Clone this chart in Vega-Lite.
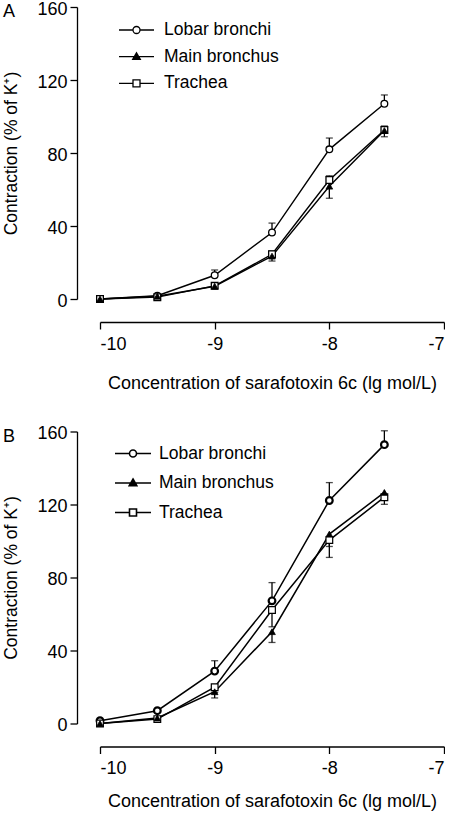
{
  "$schema": "https://vega.github.io/schema/vega-lite/v6.json",
  "background": "white",
  "padding": {"left": 2, "top": 0, "right": 0, "bottom": 0},
  "spacing": 32.5,
  "config": {
    "font": "Liberation Sans",
    "view": {"stroke": null},
    "axis": {
      "grid": false,
      "domainColor": "black",
      "domainWidth": 1.3,
      "tickColor": "black",
      "tickWidth": 1.3,
      "tickSize": 7,
      "labelColor": "black",
      "labelFontSize": 18,
      "titleColor": "black",
      "titleFontSize": 17.5,
      "titleFontWeight": "normal",
      "offset": 23
    },
    "legend": {
      "labelFontSize": 17.5,
      "labelColor": "black",
      "padding": 0
    },
    "title": {"fontSize": 18, "fontWeight": "normal", "color": "black", "anchor": "start", "frame": "bounds"}
  },
  "datasets": {
    "A": [
      {"s": "Lobar bronchi", "x": -10, "y": 0, "lo": 0, "hi": 0},
      {"s": "Lobar bronchi", "x": -9.5, "y": 1.8, "lo": 1.8, "hi": 1.8},
      {"s": "Lobar bronchi", "x": -9, "y": 13, "lo": 13, "hi": 15.9},
      {"s": "Lobar bronchi", "x": -8.5, "y": 36.4, "lo": 36.4, "hi": 41.6},
      {"s": "Lobar bronchi", "x": -8, "y": 82, "lo": 82, "hi": 88.2},
      {"s": "Lobar bronchi", "x": -7.52, "y": 107, "lo": 107, "hi": 111.8},
      {"s": "Main bronchus", "x": -10, "y": 0, "lo": 0, "hi": 0},
      {"s": "Main bronchus", "x": -9.5, "y": 1.5, "lo": 1.5, "hi": 1.5},
      {"s": "Main bronchus", "x": -9, "y": 7, "lo": 6, "hi": 7},
      {"s": "Main bronchus", "x": -8.5, "y": 23.5, "lo": 20.8, "hi": 23.5},
      {"s": "Main bronchus", "x": -8, "y": 61.8, "lo": 55.2, "hi": 61.8},
      {"s": "Main bronchus", "x": -7.52, "y": 92.3, "lo": 88.9, "hi": 92.3},
      {"s": "Trachea", "x": -10, "y": 0, "lo": 0, "hi": 0},
      {"s": "Trachea", "x": -9.5, "y": 1, "lo": 1, "hi": 1},
      {"s": "Trachea", "x": -9, "y": 7.2, "lo": 7.2, "hi": 8},
      {"s": "Trachea", "x": -8.5, "y": 24.5, "lo": 24.5, "hi": 26.3},
      {"s": "Trachea", "x": -8, "y": 65.2, "lo": 65.2, "hi": 67.5},
      {"s": "Trachea", "x": -7.52, "y": 92.6, "lo": 92.6, "hi": 94.8}
    ],
    "B": [
      {"s": "Lobar bronchi", "x": -10, "y": 1.5, "lo": 1.5, "hi": 1.5},
      {"s": "Lobar bronchi", "x": -9.5, "y": 7, "lo": 7, "hi": 7},
      {"s": "Lobar bronchi", "x": -9, "y": 28.7, "lo": 28.7, "hi": 34.4},
      {"s": "Lobar bronchi", "x": -8.5, "y": 67.2, "lo": 67.2, "hi": 77.2},
      {"s": "Lobar bronchi", "x": -8, "y": 122.2, "lo": 122.2, "hi": 132},
      {"s": "Lobar bronchi", "x": -7.52, "y": 152.8, "lo": 152.8, "hi": 160.4},
      {"s": "Main bronchus", "x": -10, "y": 0, "lo": 0, "hi": 0},
      {"s": "Main bronchus", "x": -9.5, "y": 3, "lo": 3, "hi": 3},
      {"s": "Main bronchus", "x": -9, "y": 17.4, "lo": 14, "hi": 17.4},
      {"s": "Main bronchus", "x": -8.5, "y": 50.3, "lo": 44.4, "hi": 50.3},
      {"s": "Main bronchus", "x": -8, "y": 103.8, "lo": 97, "hi": 103.8},
      {"s": "Main bronchus", "x": -7.52, "y": 126.6, "lo": 126.6, "hi": 126.6},
      {"s": "Trachea", "x": -10, "y": 0, "lo": 0, "hi": 0},
      {"s": "Trachea", "x": -9.5, "y": 2.4, "lo": 2.4, "hi": 2.4},
      {"s": "Trachea", "x": -9, "y": 19.9, "lo": 17, "hi": 19.9},
      {"s": "Trachea", "x": -8.5, "y": 62.2, "lo": 53, "hi": 62.2},
      {"s": "Trachea", "x": -8, "y": 100.5, "lo": 91, "hi": 100.5},
      {"s": "Trachea", "x": -7.52, "y": 124, "lo": 120.1, "hi": 124}
    ]
  },
  "resolve": {"scale": {"shape": "independent"}, "legend": {"shape": "independent"}},
  "vconcat": [
    {
      "title": {"text": "A", "offset": -21},
      "width": 344,
      "height": 292,
      "data": {"name": "A"},
      "encoding": {
        "x": {"field": "x", "type": "quantitative", "scale": {"domain": [-10, -7], "nice": false, "zero": false},
              "axis": {"values": [-10, -9, -8, -7], "labelExpr": "'' + datum.value", "labelPadding": 6, "title": "Concentration of sarafotoxin 6c (lg mol/L)", "titlePadding": 21, "titleFontSize": 18}},
        "y": {"field": "y", "type": "quantitative", "scale": {"domain": [0, 160], "nice": false},
              "axis": {"values": [0, 40, 80, 120, 160], "labelPadding": 3, "labelOffset": 2, "title": "Contraction (% of K⁺)", "titlePadding": 16}}
      },
      "layer": [
        {"mark": {"type": "line", "color": "black", "strokeWidth": 1.4}, "encoding": {"detail": {"field": "s"}, "order": {"field": "x"}}},
        {"transform": [{"filter": "datum.lo < datum.hi"}], "mark": {"type": "rule", "color": "black", "strokeWidth": 1.3}, "encoding": {"y": {"field": "lo", "type": "quantitative"}, "y2": {"field": "hi"}}},
        {"transform": [{"filter": "datum.hi > datum.y"}], "mark": {"type": "tick", "orient": "horizontal", "color": "black", "size": 7, "thickness": 1.3}, "encoding": {"y": {"field": "hi", "type": "quantitative"}}},
        {"transform": [{"filter": "datum.lo < datum.y"}], "mark": {"type": "tick", "orient": "horizontal", "color": "black", "size": 7, "thickness": 1.3}, "encoding": {"y": {"field": "lo", "type": "quantitative"}}},
        {"transform": [{"filter": "datum.s == 'Lobar bronchi'"}], "mark": {"type": "point", "shape": "circle", "filled": true, "fill": "white", "stroke": "black", "strokeWidth": 1.3, "size": 45, "opacity": 1}},
        {"transform": [{"filter": "datum.s == 'Trachea'"}], "mark": {"type": "point", "shape": "square", "filled": true, "fill": "white", "stroke": "black", "strokeWidth": 1.3, "size": 45, "opacity": 1}},
        {"transform": [{"filter": "datum.s == 'Main bronchus'"}], "mark": {"type": "point", "shape": "triangle-up", "filled": true, "fill": "black", "stroke": "black", "strokeWidth": 0.8, "size": 45, "opacity": 1}},
        {"transform": [{"filter": "false"}], "mark": {"type": "point", "filled": false, "color": "black", "strokeWidth": 1.3, "opacity": 1},
         "encoding": {
           "shape": {"field": "s", "type": "nominal",
             "scale": {"domain": ["Lobar bronchi", "Main bronchus", "Trachea"],
                       "range": ["M-1.75,0H-0.35M0.35,0H1.75M-0.35,0A0.35,0.35,0,1,0,0.35,0A0.35,0.35,0,1,0,-0.35,0Z",
                                 "M-1.75,0H1.75M0,-0.4L0.38,0.26L-0.38,0.26ZM0,-0.29L0.27,0.18L-0.27,0.18ZM0,-0.18L0.17,0.12L-0.17,0.12ZM0,-0.07L0.07,0.07L-0.07,0.07Z",
                                 "M-1.75,0H-0.35M0.35,0H1.75M-0.35,-0.35H0.35V0.35H-0.35Z"]},
             "legend": {"title": null, "orient": "none", "legendX": 25.5, "legendY": 12, "symbolSize": 400, "labelOffset": 16.5, "rowPadding": 6.7,
               "symbolStrokeColor": "black", "symbolStrokeWidth": 1.3, "symbolOpacity": 1, "symbolFillColor": "transparent"}}
         }}
      ]
    },
    {
      "title": {"text": "B", "offset": -21},
      "width": 344,
      "height": 292,
      "data": {"name": "B"},
      "encoding": {
        "x": {"field": "x", "type": "quantitative", "scale": {"domain": [-10, -7], "nice": false, "zero": false},
              "axis": {"values": [-10, -9, -8, -7], "labelExpr": "'' + datum.value", "labelPadding": 6, "title": "Concentration of sarafotoxin 6c (lg mol/L)", "titlePadding": 15, "titleFontSize": 18}},
        "y": {"field": "y", "type": "quantitative", "scale": {"domain": [0, 160], "nice": false},
              "axis": {"values": [0, 40, 80, 120, 160], "labelPadding": 3, "labelOffset": 2, "title": "Contraction (% of K⁺)", "titlePadding": 16}}
      },
      "layer": [
        {"mark": {"type": "line", "color": "black", "strokeWidth": 1.5}, "encoding": {"detail": {"field": "s"}, "order": {"field": "x"}}},
        {"transform": [{"filter": "datum.lo < datum.hi"}], "mark": {"type": "rule", "color": "black", "strokeWidth": 1.3}, "encoding": {"y": {"field": "lo", "type": "quantitative"}, "y2": {"field": "hi"}}},
        {"transform": [{"filter": "datum.hi > datum.y"}], "mark": {"type": "tick", "orient": "horizontal", "color": "black", "size": 7, "thickness": 1.3}, "encoding": {"y": {"field": "hi", "type": "quantitative"}}},
        {"transform": [{"filter": "datum.lo < datum.y"}], "mark": {"type": "tick", "orient": "horizontal", "color": "black", "size": 7, "thickness": 1.3}, "encoding": {"y": {"field": "lo", "type": "quantitative"}}},
        {"transform": [{"filter": "datum.s == 'Lobar bronchi'"}], "mark": {"type": "point", "shape": "circle", "filled": true, "fill": "white", "stroke": "black", "strokeWidth": 2.2, "size": 45, "opacity": 1}},
        {"transform": [{"filter": "datum.s == 'Trachea'"}], "mark": {"type": "point", "shape": "square", "filled": true, "fill": "white", "stroke": "black", "strokeWidth": 1.2, "size": 45, "opacity": 1}},
        {"transform": [{"filter": "datum.s == 'Main bronchus'"}], "mark": {"type": "point", "shape": "triangle-up", "filled": true, "fill": "black", "stroke": "black", "strokeWidth": 0.8, "size": 45, "opacity": 1}},
        {"transform": [{"filter": "false"}], "mark": {"type": "point", "filled": false, "color": "black", "strokeWidth": 1.6, "opacity": 1},
         "encoding": {
           "shape": {"field": "s", "type": "nominal",
             "scale": {"domain": ["Lobar bronchi", "Main bronchus", "Trachea"],
                       "range": ["M-1.8,0H-0.35M0.35,0H1.8M-0.35,0A0.35,0.35,0,1,0,0.35,0A0.35,0.35,0,1,0,-0.35,0Z",
                                 "M-1.8,0H1.8M0,-0.4L0.38,0.26L-0.38,0.26ZM0,-0.29L0.27,0.18L-0.27,0.18ZM0,-0.18L0.17,0.12L-0.17,0.12ZM0,-0.07L0.07,0.07L-0.07,0.07Z",
                                 "M-1.8,0H-0.35M0.35,0H1.8M-0.35,-0.35H0.35V0.35H-0.35Z"]},
             "legend": {"title": null, "orient": "none", "legendX": 22, "legendY": 11, "symbolSize": 400, "labelOffset": 15, "rowPadding": 9.5,
               "symbolStrokeColor": "black", "symbolStrokeWidth": 1.6, "symbolOpacity": 1, "symbolFillColor": "transparent"}}
         }}
      ]
    }
  ]
}
